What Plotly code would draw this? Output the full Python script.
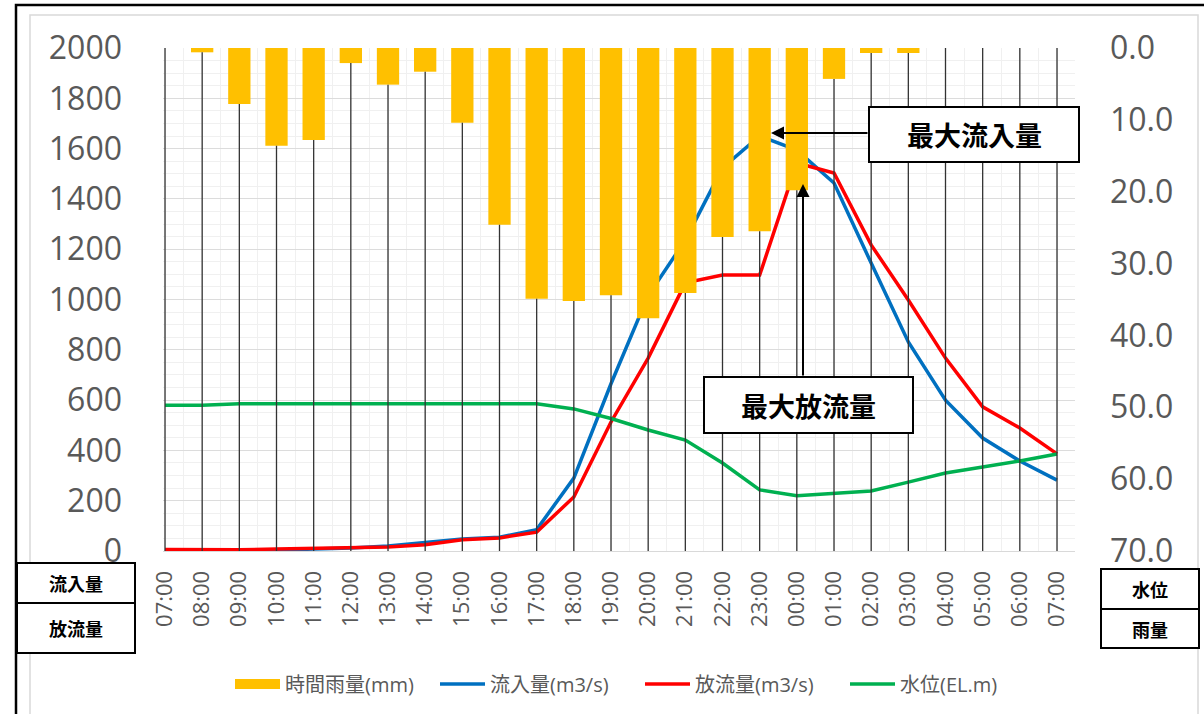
import plotly.graph_objects as go

times = ["07:00", "08:00", "09:00", "10:00", "11:00", "12:00", "13:00", "14:00", "15:00",
         "16:00", "17:00", "18:00", "19:00", "20:00", "21:00", "22:00", "23:00", "00:00",
         "01:00", "02:00", "03:00", "04:00", "05:00", "06:00", "07:00"]
rain = [0, 0.6, 7.8, 13.6, 12.8, 2.1, 5.1, 3.3, 10.4, 24.6, 34.9, 35.2, 34.4, 37.6,
        34.1, 26.3, 25.5, 19.8, 4.3, 0.7, 0.7, 0, 0, 0, 0]
inflow = [5, 5, 0, 2, 8, 12, 20, 35, 48, 55, 85, 290, 665, 1016, 1236, 1523, 1650,
          1594, 1463, 1145, 831, 600, 449, 358, 282]
outflow = [6, 5, 5, 8, 10, 12, 16, 25, 45, 52, 75, 215, 513, 767, 1066, 1097, 1097,
           1543, 1503, 1217, 998, 767, 573, 489, 386]
level = [580, 580, 585, 585, 585, 585, 585, 585, 585, 585, 585, 565, 527, 481, 441, 350,
         243, 220, 230, 239, 274, 310, 334, 358, 386]

x = list(range(len(times)))

# plot area in pixels
L, R, T, B = 163, 1075, 48, 551
W, H = 1204, 714


def px(v):
    return (v - L) / (R - L)


def py(v):
    return (B - v) / (B - T)


fig = go.Figure()

fig.add_trace(go.Bar(x=x, y=rain, yaxis="y2", name="時間雨量(mm)", showlegend=False,
                     marker=dict(color="#FFC000", line=dict(width=0)), width=0.6))

# drop lines from each rain bar down to the axis
dx, dy = [], []
for xi, r in zip(x, rain):
    dx += [xi, xi, None]
    dy += [r, 70, None]
fig.add_trace(go.Scatter(x=dx, y=dy, yaxis="y2", mode="lines", showlegend=False,
                         line=dict(color="#333333", width=1.3), hoverinfo="skip"))

# legend swatch for rain (wide rectangle like the reference)
fig.add_trace(go.Scatter(x=[None], y=[None], yaxis="y2", mode="lines", name="時間雨量(mm)",
                         line=dict(color="#FFC000", width=12)))

fig.add_trace(go.Scatter(x=x, y=inflow, name="流入量(m3/s)", mode="lines",
                         line=dict(color="#0070C0", width=3.5)))
fig.add_trace(go.Scatter(x=x, y=outflow, name="放流量(m3/s)", mode="lines",
                         line=dict(color="#FF0000", width=3.5)))
fig.add_trace(go.Scatter(x=x, y=level, name="水位(EL.m)", mode="lines",
                         line=dict(color="#00B050", width=3.5)))

step = (1057 - 165) / 24.0
x0 = -(165 - L) / step
x1 = 24 + (R - 1057) / step

tickfont_big = dict(family="Open Sans, Noto Sans CJK JP", size=32, color="#595959")

fig.update_layout(
    width=W, height=H,
    margin=dict(l=L, r=W - R, t=T, b=H - B, autoexpand=False),
    paper_bgcolor="white", plot_bgcolor="white",
    showlegend=True,
    legend=dict(orientation="h", x=px(230), xanchor="left", y=py(684), yanchor="middle",
                font=dict(family="Open Sans, Noto Sans CJK JP", size=20, color="#595959"),
                traceorder="normal", itemwidth=45, entrywidth=145, entrywidthmode="pixels",
                bgcolor="rgba(0,0,0,0)"),
    xaxis=dict(range=[x0, x1], tickvals=x, ticktext=times, tickangle=-90,
               tickfont=dict(family="Open Sans, Noto Sans CJK JP", size=22, color="#595959"),
               showgrid=True, gridcolor="#ececec", gridwidth=1,
               minor=dict(dtick=0.5, tick0=0, showgrid=True, gridcolor="#f0f0f0"),
               showline=True, linecolor="#d9d9d9", linewidth=1, ticks="",
               ticklabelstandoff=10, zeroline=False),
    yaxis=dict(range=[0, 2000], dtick=200, tickfont=tickfont_big,
               showgrid=True, gridcolor="#dcdcdc", gridwidth=1,
               minor=dict(dtick=50, showgrid=True, gridcolor="#f0f0f0"),
               zeroline=False, showline=False, ticks="", ticklabelstandoff=40),
    yaxis2=dict(range=[70, 0], dtick=10, tickformat=".1f", overlaying="y", side="right",
                tickfont=tickfont_big, showgrid=False, zeroline=False, ticks="",
                ticklabelstandoff=34),
)

shapes = []
annotations = []

# outer frames
shapes.append(dict(type="rect", xref="paper", yref="paper", x0=px(16), x1=px(1210),
                   y0=py(730), y1=py(5), line=dict(color="black", width=2.5)))
shapes.append(dict(type="rect", xref="paper", yref="paper", x0=px(30), x1=px(1198),
                   y0=py(730), y1=py(15), line=dict(color="#d9d9d9", width=1.5)))


def box(xa, xb, ya, yb, text, size, bold=True):
    shapes.append(dict(type="rect", xref="paper", yref="paper", x0=px(xa), x1=px(xb),
                       y0=py(yb), y1=py(ya), line=dict(color="black", width=2),
                       fillcolor="white", layer="above"))
    t = "<b>%s</b>" % text if bold else text
    annotations.append(dict(xref="paper", yref="paper", x=px((xa + xb) / 2),
                            y=py((ya + yb) / 2), text=t, showarrow=False,
                            xanchor="center", yanchor="middle",
                            font=dict(family="Noto Sans CJK JP", size=size, color="black")))


box(17, 135, 563, 603, "流入量", 18)
box(17, 135, 603, 653, "放流量", 18)
box(1101, 1199, 569, 609, "水位", 18)
box(1101, 1199, 609, 648, "雨量", 18)
box(869, 1079, 107, 162, "最大流入量", 27)
box(704, 913, 377, 433, "最大放流量", 27)

# arrows
annotations.append(dict(xref="paper", yref="paper", x=px(771), y=py(133), ax=869 - 771, ay=0,
                        text="", showarrow=True, arrowhead=2, arrowsize=1.3, arrowwidth=2,
                        arrowcolor="black"))
annotations.append(dict(xref="paper", yref="paper", x=px(803), y=py(184), ax=0, ay=377 - 184,
                        text="", showarrow=True, arrowhead=2, arrowsize=1.3, arrowwidth=2,
                        arrowcolor="black"))

fig.update_layout(shapes=shapes, annotations=annotations)

fig.write_html("out.html", config={"displayModeBar": False},
               post_script="document.body.style.margin='0';")
